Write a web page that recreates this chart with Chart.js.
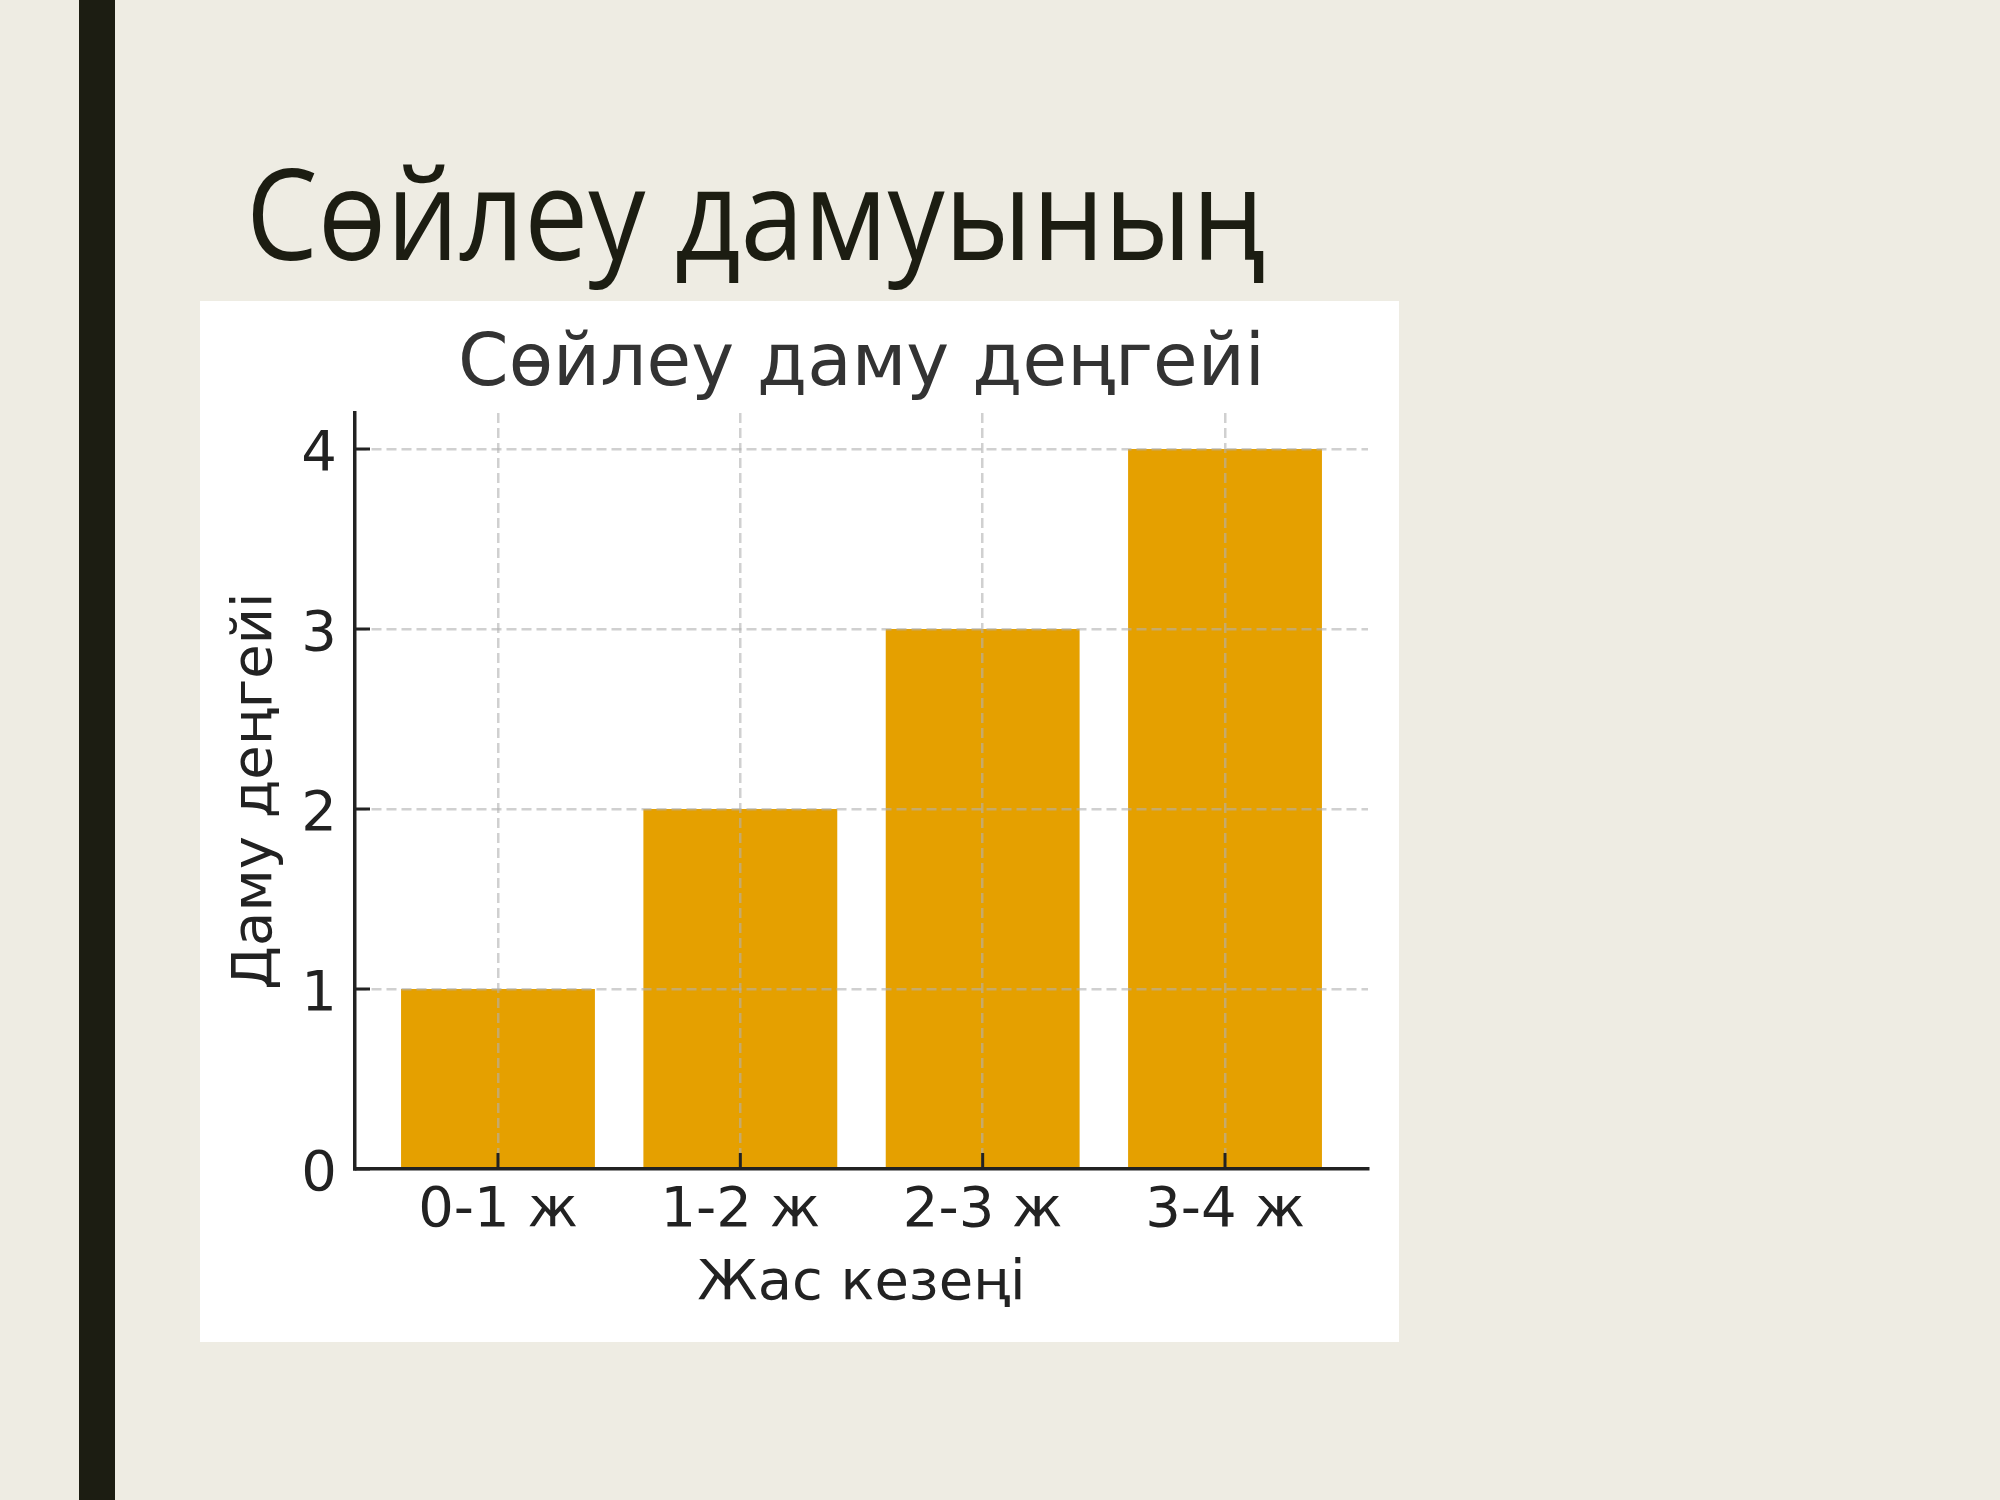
<!DOCTYPE html>
<html>
<head>
<meta charset="utf-8">
<script src="https://cdn.jsdelivr.net/npm/chart.js@4"></script>
<style>
  html, body { margin: 0; padding: 0; }
  body { width: 2000px; height: 1500px; background: #EEECE3; position: relative; overflow: hidden; }
  #bar { position: absolute; left: 79px; top: 0; width: 36px; height: 1500px; background: #1C1D12; }
  #heading {
    position: absolute; left: 246px; top: 148px;
    font-family: 'Open Sans', sans-serif; font-size: 126px; line-height: 1;
    color: #1C1D12; white-space: nowrap;
    transform: scaleX(0.905); transform-origin: left top;
  }
  #box { position: absolute; left: 200px; top: 301px; width: 1199px; height: 1041px; background: #fff; }
</style>
</head>
<body>
<div id="bar"></div>
<div id="heading">Сөйлеу дамуының</div>
<div id="box"><canvas id="chart" width="1199" height="1041"></canvas></div>
<script>
// данные диаграммы
const categories = ['0-1 ж', '1-2 ж', '2-3 ж', '3-4 ж'];
const levels = [1, 2, 3, 4];
const yTicks = [0, 1, 2, 3, 4];

const chartTitle = 'Сөйлеу даму деңгейі';
const xTitle = 'Жас кезеңі';
const yTitle = 'Даму деңгейі';

const FONT = "'DejaVu Sans', sans-serif";
const gridColor = 'rgba(176, 176, 176, 0.6)';
const inkColor = '#222222';

// matplotlib-style ticks pointing into the plot
const innerTicks = {
  id: 'innerTicks',
  afterDraw(chart) {
    const {ctx, chartArea, scales} = chart;
    ctx.save();
    ctx.strokeStyle = inkColor;
    ctx.lineWidth = 3;
    scales.y.ticks.forEach(t => {
      const py = scales.y.getPixelForValue(t.value);
      ctx.beginPath();
      ctx.moveTo(chartArea.left, py);
      ctx.lineTo(chartArea.left + 15, py);
      ctx.stroke();
    });
    scales.x.ticks.forEach(t => {
      const px = scales.x.getPixelForValue(t.value);
      ctx.beginPath();
      ctx.moveTo(px, chartArea.bottom);
      ctx.lineTo(px, chartArea.bottom - 16);
      ctx.stroke();
    });
    ctx.restore();
  }
};

new Chart(document.getElementById('chart'), {
  type: 'bar',
  data: {
    datasets: [{
      data: levels.map((v, i) => ({x: i, y: v})),
      backgroundColor: '#E5A000',
      borderWidth: 0,
      barPercentage: 0.8,
      categoryPercentage: 1.0
    }]
  },
  options: {
    responsive: false,
    animation: false,
    devicePixelRatio: 1,
    layout: { padding: { left: 0, right: 31, top: 0, bottom: 0 } },
    plugins: {
      legend: { display: false },
      tooltip: { enabled: false },
      title: {
        display: true,
        fullSize: false,
        text: chartTitle,
        color: '#333333',
        font: { family: FONT, size: 72.5, weight: 'normal', lineHeight: 1.2 },
        padding: { top: 22, bottom: 3 }
      }
    },
    scales: {
      x: {
        type: 'linear',
        offset: false,
        min: -0.59,
        max: 3.59,
        afterBuildTicks: s => { s.ticks = categories.map((c, i) => ({value: i})); },
        afterFit: s => { s.height = 173; },
        grid: { color: gridColor, lineWidth: 2.5, drawTicks: false, offset: false, z: 1 },
        border: { color: inkColor, width: 3.5, dash: [10, 5], z: 2 },
        ticks: {
          callback: v => categories[v],
          color: inkColor, padding: 9, maxRotation: 0, autoSkip: false,
          font: { family: FONT, size: 56 }
        },
        title: {
          display: true, text: xTitle, color: inkColor,
          font: { family: FONT, size: 56, lineHeight: 1.2 },
          padding: { top: 0, bottom: 24 }
        }
      },
      y: {
        min: 0,
        max: 4.2,
        afterBuildTicks: s => { s.ticks = yTicks.map(v => ({value: v})); },
        afterFit: s => { s.width = 155; },
        grid: {
          color: c => c.tick && c.tick.value === 0 ? 'rgba(0,0,0,0)' : gridColor,
          lineWidth: 2.5, drawTicks: false, z: 1
        },
        border: { color: inkColor, width: 3.5, dash: [10, 5], z: 2 },
        ticks: {
          color: inkColor, padding: 18, labelOffset: 6,
          font: { family: FONT, size: 56 }
        },
        title: {
          display: true, text: yTitle, color: inkColor,
          font: { family: FONT, size: 56, lineHeight: 1.2 },
          padding: { top: 23, bottom: 0 }
        }
      }
    }
  },
  plugins: [innerTicks]
});
</script>
</body>
</html>
